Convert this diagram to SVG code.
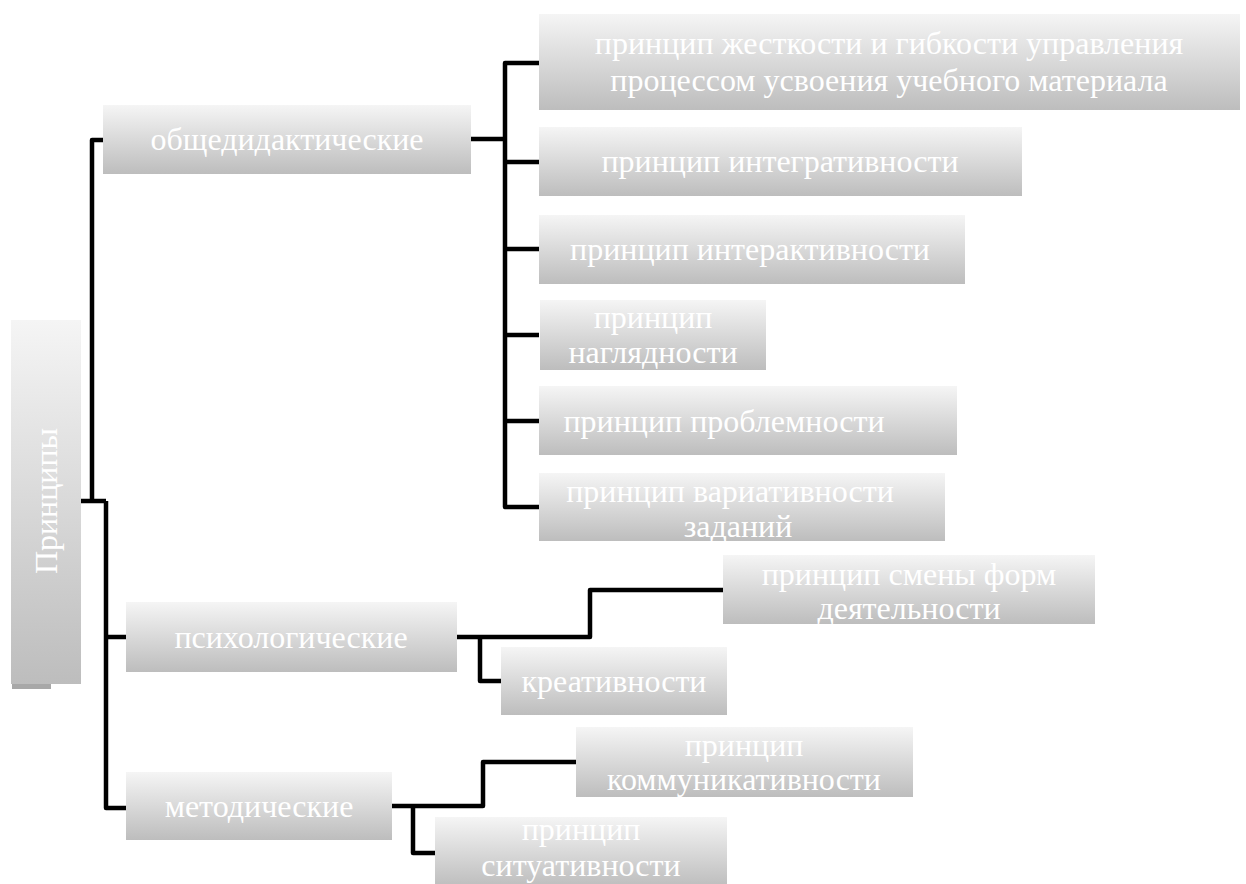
<svg xmlns="http://www.w3.org/2000/svg" width="1246" height="884" viewBox="0 0 1246 884">
<defs>
<linearGradient id="g" x1="0" y1="0" x2="0" y2="1">
<stop offset="0" stop-color="#f5f5f5"/>
<stop offset="1" stop-color="#bdbdbd"/>
</linearGradient>
</defs>
<style>
.box{fill:url(#g);}
.t{font-family:"Liberation Serif","Times New Roman",serif;font-size:32px;fill:#ffffff;text-anchor:middle;}
.c{fill:none;stroke:#000;stroke-width:4.5;stroke-linejoin:round;}
</style>
<rect width="1246" height="884" fill="#fff"/>
<g id="connectors">
<path class="c" d="M81,501 H106 M92,501 V140 H103"/>
<path class="c" d="M106,501 V808 H126 M106,637 H126"/>
<path class="c" d="M471,139 H505 M539,63 H505 V507 H539 M505,162 H539 M505,249 H539 M505,335 H539 M505,421 H539"/>
<path class="c" d="M457,637 H590 V590 H723 M480,637 V681 H501"/>
<path class="c" d="M392,806 H483 V762 H576 M413,806 V853 H435"/>
</g>
<g id="root">
<rect x="12" y="684" width="39" height="5" fill="#a8a8a8"/>
<rect class="box" x="11" y="320" width="70" height="364"/>
<text class="t" transform="translate(57,501) rotate(-90)">Принципы</text>
</g>
<g id="obsh">
<rect class="box" x="103" y="105" width="368" height="69"/>
<text class="t" x="287" y="150">общедидактические</text>
</g>
<g id="psych">
<rect class="box" x="126" y="602" width="331" height="70"/>
<text class="t" x="291" y="648">психологические</text>
</g>
<g id="metod">
<rect class="box" x="126" y="772" width="266" height="68"/>
<text class="t" x="259" y="817">методические</text>
</g>
<g id="n1">
<rect class="box" x="539" y="14" width="701" height="96"/>
<text class="t" x="889" y="54">принцип жесткости и гибкости управления</text>
<text class="t" x="889" y="91">процессом усвоения учебного материала</text>
</g>
<g id="n2">
<rect class="box" x="539" y="127" width="483" height="69"/>
<text class="t" x="780" y="172">принцип интегративности</text>
</g>
<g id="n3">
<rect class="box" x="539" y="215" width="426" height="69"/>
<text class="t" x="750" y="260">принцип интерактивности</text>
</g>
<g id="n4">
<rect class="box" x="540" y="300" width="226" height="70"/>
<text class="t" x="653" y="328">принцип</text>
<text class="t" x="653" y="363">наглядности</text>
</g>
<g id="n5">
<rect class="box" x="539" y="386" width="418" height="69"/>
<text class="t" x="724" y="432">принцип проблемности</text>
</g>
<g id="n6">
<rect class="box" x="539" y="473" width="406" height="68"/>
<text class="t" x="730" y="502">принцип вариативности</text>
<text class="t" x="738" y="537">заданий</text>
</g>
<g id="n7">
<rect class="box" x="723" y="555" width="372" height="69"/>
<text class="t" x="909" y="585">принцип смены форм</text>
<text class="t" x="909" y="619">деятельности</text>
</g>
<g id="n8">
<rect class="box" x="501" y="647" width="226" height="68"/>
<text class="t" x="614" y="692">креативности</text>
</g>
<g id="n9">
<rect class="box" x="576" y="727" width="337" height="70"/>
<text class="t" x="744" y="756">принцип</text>
<text class="t" x="744" y="790">коммуникативности</text>
</g>
<g id="n10">
<rect class="box" x="435" y="817" width="292" height="70"/>
<text class="t" x="581" y="840">принцип</text>
<text class="t" x="581" y="876">ситуативности</text>
</g>
</svg>
